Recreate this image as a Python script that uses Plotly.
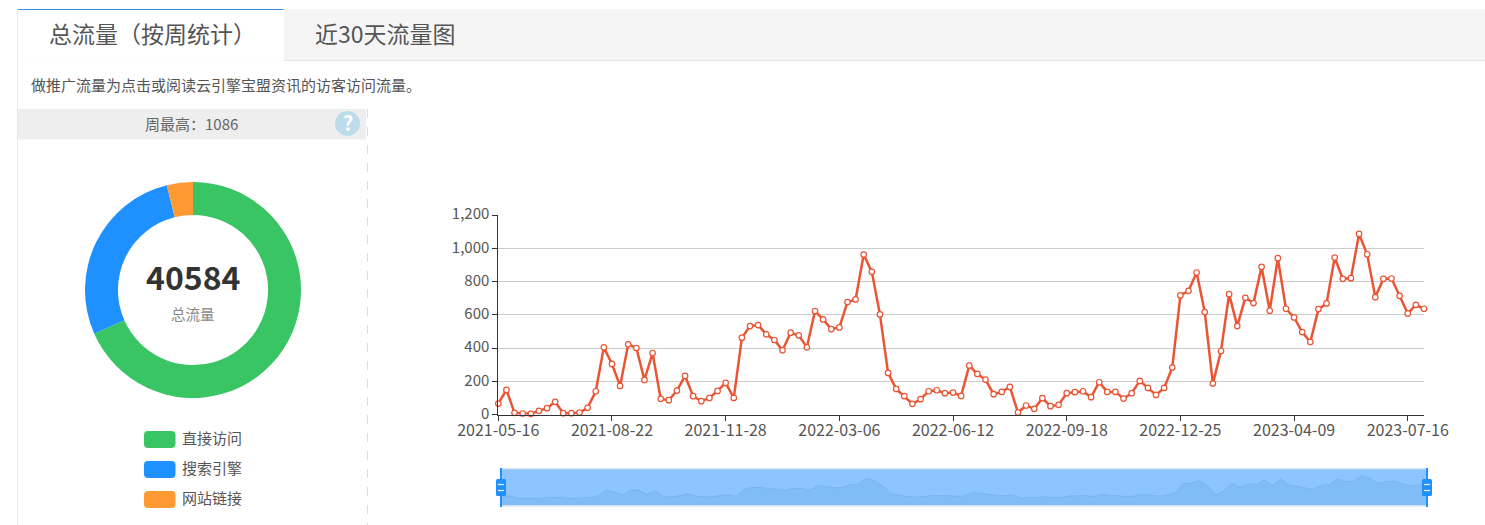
import plotly.graph_objects as go

W, H = 1485, 525
FONT = "Noto Sans CJK SC"

weeks = ["2021-05-16","2021-05-23","2021-05-30","2021-06-06","2021-06-13","2021-06-20","2021-06-27","2021-07-04","2021-07-11","2021-07-18","2021-07-25","2021-08-01","2021-08-08","2021-08-15",
"2021-08-22","2021-08-29","2021-09-05","2021-09-12","2021-09-19","2021-09-26","2021-10-03","2021-10-10","2021-10-17","2021-10-24","2021-10-31","2021-11-07","2021-11-14","2021-11-21",
"2021-11-28","2021-12-05","2021-12-12","2021-12-19","2021-12-26","2022-01-02","2022-01-09","2022-01-16","2022-01-23","2022-01-30","2022-02-06","2022-02-13","2022-02-20","2022-02-27",
"2022-03-06","2022-03-13","2022-03-20","2022-03-27","2022-04-03","2022-04-10","2022-04-17","2022-04-24","2022-05-01","2022-05-08","2022-05-15","2022-05-22","2022-05-29","2022-06-05",
"2022-06-12","2022-06-19","2022-06-26","2022-07-03","2022-07-10","2022-07-17","2022-07-24","2022-07-31","2022-08-07","2022-08-14","2022-08-21","2022-08-28","2022-09-04","2022-09-11",
"2022-09-18","2022-09-25","2022-10-02","2022-10-09","2022-10-16","2022-10-23","2022-10-30","2022-11-06","2022-11-13","2022-11-20","2022-11-27","2022-12-04","2022-12-11","2022-12-18",
"2022-12-25","2023-01-01","2023-01-08","2023-01-15","2023-01-29","2023-02-05","2023-02-12","2023-02-19","2023-02-26","2023-03-05","2023-03-12","2023-03-19","2023-03-26","2023-04-02",
"2023-04-09","2023-04-16","2023-04-23","2023-04-30","2023-05-07","2023-05-14","2023-05-21","2023-05-28","2023-06-04","2023-06-11","2023-06-18","2023-06-25","2023-07-02","2023-07-09",
"2023-07-16","2023-07-23","2023-07-30"]

traffic = [66,148,10,6,4,22,38,76,8,8,12,40,140,404,
304,172,422,400,208,370,94,86,144,232,110,80,100,142,
190,100,462,532,538,482,448,386,492,476,404,622,572,514,
524,676,692,962,858,602,250,154,110,64,92,140,146,128,
132,112,294,244,210,122,136,166,12,54,34,98,50,58,
128,134,140,104,194,136,136,96,128,202,160,118,160,282,
716,744,854,616,186,382,724,532,702,670,888,624,940,636,
584,496,436,634,668,944,816,820,1086,964,706,816,818,714,
608,660,636]

x_ticks = ["2021-05-16","2021-08-22","2021-11-28","2022-03-06","2022-06-12","2022-09-18","2022-12-25","2023-04-09","2023-07-16"]
y_ticks = [0,200,400,600,800,1000,1200]
shadow_range = [-326, 1412]

source_labels = ["直接访问","搜索引擎","网站链接"]
source_values = [27750,11250,1584]
source_colors = ["#3ac565","#1e90ff","#ff9a33"]

def px(x): return x / W
def py(y): return 1 - y / H

def rect(x0, y0, x1, y1, fill, layer="below"):
    return dict(type="rect", xref="paper", yref="paper", x0=px(x0), x1=px(x1), y0=py(y0), y1=py(y1),
                fillcolor=fill, line_width=0, layer=layer)

def line(x0, y0, x1, y1, color, width=1, dash="solid", layer="below"):
    return dict(type="line", xref="paper", yref="paper", x0=px(x0), x1=px(x1), y0=py(y0), y1=py(y1),
                line=dict(color=color, width=width, dash=dash), layer=layer)

def rrect(x0, y0, x1, y1, r, fill):
    X0, X1, Y0, Y1 = px(x0), px(x1), py(y0), py(y1)
    rx, ry = r / W, r / H
    p = (f"M {X0+rx} {Y0} L {X1-rx} {Y0} Q {X1} {Y0} {X1} {Y0-ry} L {X1} {Y1+ry} Q {X1} {Y1} {X1-rx} {Y1} "
         f"L {X0+rx} {Y1} Q {X0} {Y1} {X0} {Y1+ry} L {X0} {Y0-ry} Q {X0} {Y0} {X0+rx} {Y0} Z")
    return dict(type="path", xref="paper", yref="paper", path=p, fillcolor=fill, line_width=0, layer="above")

def text(x, y, s, size, color, anchor="left", bold=False):
    return dict(xref="paper", yref="paper", x=px(x), y=py(y), text=f"<b>{s}</b>" if bold else s, showarrow=False,
                xanchor=anchor, yanchor="middle", align=anchor,
                font=dict(family=FONT, size=size, color=color))

fig = go.Figure()

fig.add_trace(go.Scatter(x=weeks, y=traffic, mode="lines+markers", xaxis="x", yaxis="y",
                         line=dict(color="#ea5534", width=2.5),
                         marker=dict(size=5.5, color="white", line=dict(color="#ea5534", width=1.2)),
                         showlegend=False, cliponaxis=False))

fig.add_trace(go.Scatter(x=weeks, y=traffic, mode="lines", xaxis="x2", yaxis="y2", fill="tozeroy",
                         fillcolor="#80bcf6", line=dict(color="#7ab5ef", width=1),
                         showlegend=False, hoverinfo="skip"))

fig.add_trace(go.Pie(labels=source_labels, values=source_values, hole=0.695, sort=False, direction="clockwise",
                     rotation=0, marker=dict(colors=source_colors, line=dict(width=0)),
                     textinfo="none", showlegend=False,
                     domain=dict(x=[px(85), px(301)], y=[py(398), py(182)])))

shapes = [
    rect(18, 9, W, 60.5, "#f5f5f5"),
    line(283.5, 60.5, W, 60.5, "#e6e6e6"),
    line(283.5, 9, 283.5, 60.5, "#e6e6e6"),
    rect(18, 9, 284, 60.5, "#ffffff"),
    line(18, 9.5, 283.5, 9.5, "#3a8ee6", 1),
    line(17.5, 9, 17.5, H, "#e8e8e8"),
    rect(18, 109, 366, 139.5, "#eeeeee"),
    line(367.5, 109, 367.5, H, "#dddddd", 1, "dash"),
    dict(type="circle", xref="paper", yref="paper", x0=px(335), x1=px(360), y0=py(136), y1=py(111),
         fillcolor="#bcdcec", line_width=0, layer="below"),
    rect(501, 469, 1427, 505.5, "#8cc5ff"),
    dict(type="rect", xref="paper", yref="y2", x0=px(501), x1=px(1427), y0=shadow_range[0], y1=0,
         fillcolor="#80bcf6", line_width=0, layer="below"),
    line(501, 468.5, 1427, 468.5, "#dde5f3", 1.5),
    line(501, 506, 1427, 506, "#dde5f3", 1.5),
    line(501, 468, 501, 507, "#1e90ff", 2, layer="above"),
    line(1427, 468, 1427, 507, "#1e90ff", 2, layer="above"),
]
for hx in (501, 1427):
    shapes += [
        rrect(hx - 5, 479, hx + 5, 496, 1.5, "#1e90ff"),
        line(hx - 3, 484.5, hx + 3, 484.5, "#ffffff", 1.2, layer="above"),
        line(hx - 3, 490.5, hx + 3, 490.5, "#ffffff", 1.2, layer="above"),
    ]
legend_rows = [439.5, 469.5, 499.5]
for yy, c in zip(legend_rows, source_colors):
    shapes.append(rrect(144, yy - 8.5, 175.5, yy + 8.5, 4, c))

annotations = [
    text(46.5, 33.5, "总流量（按周统计）", 23, "#555555"),
    text(313, 33.5, "近30天流量图", 23, "#555555"),
    text(29, 84, "做推广流量为点击或阅读云引擎宝盟资讯的访客访问流量。", 15, "#555555"),
    text(191.5, 123.5, "周最高：1086", 15, "#666666", "center"),
    text(347.5, 122.5, "?", 20, "#ffffff", "center", True),
    text(193, 276, "40584", 32, "#333333", "center", True),
    text(193, 313, "总流量", 14.5, "#888888", "center"),
]
for yy, s in zip(legend_rows, source_labels):
    annotations.append(text(179.5, yy - 2.5, s, 15, "#555555"))

fig.update_layout(
    width=W, height=H, margin=dict(l=0, r=0, t=0, b=0, autoexpand=False), autosize=False,
    paper_bgcolor="white", plot_bgcolor="rgba(0,0,0,0)",
    font=dict(family=FONT),
    shapes=shapes, annotations=annotations,
    xaxis=dict(domain=[px(498.3), px(1424)], anchor="y", type="category", categoryorder="array", categoryarray=weeks,
               automargin=False,
               range=[0, len(weeks) - 1], tickmode="array", tickvals=x_ticks, ticktext=x_ticks,
               showgrid=False, zeroline=False, showline=True, linecolor="#333333", linewidth=1,
               ticks="outside", ticklen=5, tickcolor="#333333", ticklabelstandoff=-4,
               tickfont=dict(size=16, color="#555555")),
    yaxis=dict(domain=[py(414.5), py(215)], anchor="x", range=[0, 1200], tickmode="array", tickvals=y_ticks,
               automargin=False,
               tickformat=",", showgrid=True, gridcolor="#cccccc", gridwidth=1, zeroline=False,
               showline=True, linecolor="#333333", linewidth=1, ticks="outside", ticklen=5, tickcolor="#333333",
               ticklabelshift=-1, tickfont=dict(size=15, color="#555555")),
    xaxis2=dict(domain=[px(501), px(1427)], anchor="y2", type="category", categoryorder="array", categoryarray=weeks,
                automargin=False, range=[0, len(weeks) - 1], visible=False),
    yaxis2=dict(domain=[py(505.5), py(469)], anchor="x2", range=shadow_range, visible=False, automargin=False),
)

fig.write_html("out.html", config=dict(displayModeBar=False),
               post_script="document.body.style.margin='0';document.documentElement.style.overflow='hidden';")
